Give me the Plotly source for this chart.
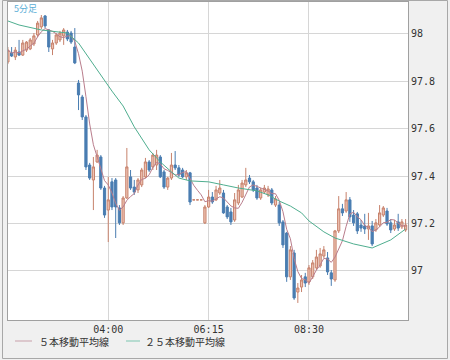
import pandas as pd
import plotly.graph_objects as go

# 5-minute bars starting 01:45
times = pd.date_range("2024-01-01 01:45", periods=108, freq="5min")

open_ = [97.882, 97.920, 97.903, 97.924, 97.911, 97.932, 97.937, 97.958, 97.996, 98.030,
         98.076, 98.017, 97.937, 97.962, 97.975, 97.992, 98.008, 98.004, 97.945, 97.793,
         97.734, 97.650, 97.447, 97.384, 97.460, 97.481, 97.350, 97.257, 97.376, 97.384,
         97.266, 97.203, 97.308, 97.397, 97.354, 97.342, 97.363, 97.397, 97.460, 97.439,
         97.447, 97.481, 97.418, 97.354, 97.392, 97.447, 97.435, 97.426, 97.397, 97.414,
         97.300, 97.300, 97.300, 97.203, 97.270, 97.312, 97.300, 97.329, 97.329, 97.270,
         97.249, 97.215, 97.287, 97.312, 97.363, 97.392, 97.376, 97.350, 97.308, 97.333,
         97.321, 97.342, 97.278, 97.278, 97.207, 97.160, 96.975, 97.076, 96.911, 96.932,
         96.975, 96.954, 96.975, 97.013, 97.021, 97.063, 97.055, 96.992, 96.962, 97.169,
         97.262, 97.253, 97.300, 97.236, 97.241, 97.194, 97.190, 97.177, 97.190, 97.173,
         97.194, 97.236, 97.253, 97.203, 97.177, 97.207, 97.186, 97.173]
high = [97.945, 97.945, 97.945, 97.975, 97.975, 97.970, 97.983, 98.004, 98.055, 98.080,
        98.080, 98.021, 97.975, 98.004, 98.013, 98.025, 98.017, 98.013, 98.025, 97.806,
        97.743, 97.658, 97.456, 97.481, 97.511, 97.489, 97.359, 97.397, 97.392, 97.392,
        97.278, 97.316, 97.519, 97.426, 97.384, 97.392, 97.435, 97.477, 97.468, 97.498,
        97.511, 97.489, 97.426, 97.397, 97.498, 97.506, 97.447, 97.435, 97.426, 97.418,
        97.300, 97.300, 97.300, 97.278, 97.342, 97.333, 97.359, 97.384, 97.342, 97.278,
        97.266, 97.329, 97.363, 97.384, 97.435, 97.405, 97.384, 97.363, 97.350, 97.363,
        97.359, 97.350, 97.316, 97.291, 97.215, 97.165, 97.105, 97.089, 96.949, 96.983,
        96.992, 97.025, 97.046, 97.089, 97.097, 97.105, 97.080, 97.004, 97.173, 97.316,
        97.283, 97.333, 97.312, 97.257, 97.249, 97.215, 97.241, 97.245, 97.211, 97.219,
        97.278, 97.274, 97.266, 97.219, 97.215, 97.241, 97.219, 97.219]
low = [97.873, 97.903, 97.890, 97.907, 97.907, 97.924, 97.932, 97.949, 97.987, 98.021,
       98.025, 97.924, 97.911, 97.954, 97.966, 97.954, 97.970, 97.958, 97.873, 97.679,
       97.637, 97.426, 97.384, 97.257, 97.456, 97.342, 97.224, 97.122, 97.257, 97.139,
       97.194, 97.194, 97.304, 97.342, 97.321, 97.329, 97.354, 97.392, 97.418, 97.426,
       97.426, 97.392, 97.346, 97.342, 97.384, 97.426, 97.397, 97.392, 97.384, 97.278,
       97.300, 97.300, 97.300, 97.198, 97.266, 97.283, 97.295, 97.321, 97.241, 97.219,
       97.194, 97.207, 97.278, 97.308, 97.354, 97.367, 97.333, 97.300, 97.300, 97.325,
       97.312, 97.278, 97.270, 97.190, 97.097, 96.954, 96.962, 96.878, 96.865, 96.911,
       96.932, 96.941, 96.966, 97.004, 97.013, 97.055, 96.983, 96.937, 96.954, 97.160,
       97.232, 97.245, 97.207, 97.190, 97.156, 97.165, 97.156, 97.131, 97.105, 97.165,
       97.186, 97.228, 97.190, 97.160, 97.169, 97.169, 97.177, 97.165]
close = [97.932, 97.907, 97.932, 97.911, 97.962, 97.966, 97.975, 97.992, 98.046, 98.068,
         98.034, 97.945, 97.962, 97.996, 98.004, 98.017, 97.979, 97.966, 97.878, 97.743,
         97.650, 97.439, 97.392, 97.439, 97.489, 97.350, 97.236, 97.300, 97.270, 97.270,
         97.203, 97.308, 97.439, 97.350, 97.333, 97.384, 97.426, 97.460, 97.426, 97.489,
         97.489, 97.397, 97.354, 97.392, 97.447, 97.435, 97.405, 97.397, 97.414, 97.291,
         97.300, 97.300, 97.300, 97.270, 97.312, 97.291, 97.342, 97.350, 97.245, 97.228,
         97.207, 97.300, 97.342, 97.371, 97.384, 97.376, 97.342, 97.308, 97.342, 97.350,
         97.346, 97.287, 97.304, 97.203, 97.110, 96.975, 97.089, 96.886, 96.928, 96.962,
         96.949, 97.013, 97.034, 97.059, 97.072, 97.089, 96.996, 96.966, 97.169, 97.262,
         97.245, 97.300, 97.228, 97.203, 97.169, 97.181, 97.177, 97.190, 97.114, 97.203,
         97.245, 97.266, 97.198, 97.173, 97.194, 97.181, 97.207, 97.194]

# 25-bar moving average at selected bars
ma25_bar = [0, 3, 9, 16, 19, 21, 25, 28, 31, 34, 38, 41, 44, 46, 49, 54, 58, 62, 67, 70,
            73, 76, 79, 81, 85, 88, 93, 98, 103, 107]
ma25_val = [98.055, 98.038, 98.017, 98.004, 97.962, 97.916, 97.827, 97.759, 97.696, 97.608,
            97.511, 97.460, 97.418, 97.392, 97.380, 97.376, 97.363, 97.350, 97.338, 97.321,
            97.295, 97.274, 97.245, 97.211, 97.165, 97.139, 97.114, 97.097, 97.131, 97.177]

y_ticks = [97.0, 97.2, 97.4, 97.6, 97.8, 98.0]
y_labels = ["97", "97.2", "97.4", "97.6", "97.8", "98"]
x_tick_times = ["2024-01-01 04:00", "2024-01-01 06:15", "2024-01-01 08:30"]
x_labels = ["04:00", "06:15", "08:30"]
legend_names = ["５本移動平均線", "２５本移動平均線"]
title_text = "5分足"

ma5 = pd.Series(close).rolling(5, min_periods=1).mean()

UP_FILL, UP_LINE = "#efc3b3", "#c7826c"
DN_FILL, DN_LINE = "#4a7db1", "#4a7db1"
MA5_COL, MA25_COL = "#b97d8c", "#4fae8f"

fig = go.Figure()
fig.add_trace(go.Candlestick(
    x=times, open=open_, high=high, low=low, close=close,
    increasing=dict(fillcolor=UP_FILL, line=dict(color=UP_LINE, width=1)),
    decreasing=dict(fillcolor=DN_FILL, line=dict(color=DN_LINE, width=1)),
    showlegend=False, name="5分足",
))
fig.add_trace(go.Scatter(x=times, y=ma5, mode="lines", name=legend_names[0],
                         line=dict(color=MA5_COL, width=1), showlegend=False))
fig.add_trace(go.Scatter(x=[times[i] for i in ma25_bar], y=ma25_val, mode="lines",
                         name=legend_names[1], line=dict(color=MA25_COL, width=1),
                         showlegend=False))

W, H = 450, 360
L, R, T, B = 8, 42, 2, 40
pw, ph = W - L - R, H - T - B


def px(x):
    return (x - L) / pw


def py(y):
    return (H - B - y) / ph


tick_font = dict(family="DejaVu Sans Mono", size=10, color="#333333")
fig.update_layout(
    width=W, height=H,
    margin=dict(l=L, r=R, t=T, b=B),
    paper_bgcolor="#f0f0f0", plot_bgcolor="#ffffff",
    boxgap=0.15,
    xaxis=dict(type="date", range=["2024-01-01 01:45:08", "2024-01-01 10:43:12"],
               rangeslider=dict(visible=False), tickvals=x_tick_times, ticktext=x_labels,
               showgrid=True, gridcolor="#d6d6d6", gridwidth=1, tickfont=tick_font,
               showline=True, linecolor="#a0a0a0", mirror=True, ticks="", zeroline=False),
    yaxis=dict(side="right", range=[96.793, 98.135], tickvals=y_ticks, ticktext=y_labels,
               showgrid=True, gridcolor="#d6d6d6", gridwidth=1, tickfont=tick_font,
               showline=True, linecolor="#a0a0a0", mirror=True, ticks="", zeroline=False),
    showlegend=False,
    shapes=[
        dict(type="rect", xref="paper", yref="paper", x0=px(2.5), x1=px(447.5),
             y0=py(358.5), y1=py(0.5), line=dict(color="#a8a8a8", width=1)),
        dict(type="line", xref="paper", yref="paper", x0=px(15), x1=px(32),
             y0=py(341), y1=py(341), line=dict(color="#c8a0aa", width=1)),
        dict(type="line", xref="paper", yref="paper", x0=px(126), x1=px(140),
             y0=py(341), y1=py(341), line=dict(color="#7cc6b0", width=1)),
    ],
    annotations=[
        dict(text=title_text, xref="paper", yref="paper", x=px(12), y=py(8.5),
             xanchor="left", yanchor="middle", showarrow=False,
             font=dict(family="Noto Sans CJK JP", size=9, color="#5aaed6")),
        dict(text=legend_names[0], xref="paper", yref="paper", x=px(37), y=py(341),
             xanchor="left", yanchor="middle", showarrow=False,
             font=dict(family="Noto Sans CJK JP", size=10, color="#333333")),
        dict(text=legend_names[1], xref="paper", yref="paper", x=px(143), y=py(341),
             xanchor="left", yanchor="middle", showarrow=False,
             font=dict(family="Noto Sans CJK JP", size=10, color="#333333")),
    ],
)

fig.write_html("out.html", config={"displayModeBar": False},
               post_script="document.body.style.margin='0';document.body.style.overflow='hidden';")
